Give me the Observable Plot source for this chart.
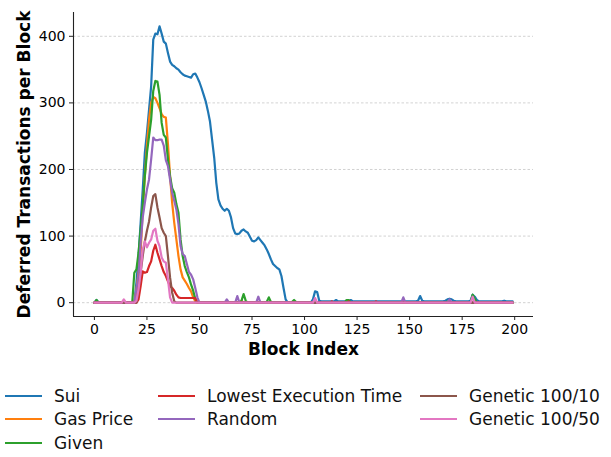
<!DOCTYPE html>
<html><head><meta charset="utf-8">
<script src="https://cdn.jsdelivr.net/npm/d3@7"></script>
<script src="https://cdn.jsdelivr.net/npm/@observablehq/plot@0.6"></script>
<style>
body{margin:0;background:#fff;font-family:"DejaVu Sans",sans-serif;width:611px;height:457px;position:relative;overflow:hidden;}
#chart{position:absolute;left:0;top:0;}
#legend{position:absolute;left:5px;top:384px;display:grid;grid-template-rows:repeat(3,23.5px);grid-template-columns:153px 262px auto;}
.item{display:flex;align-items:center;font-size:17px;color:#111;white-space:nowrap;}
.sw{display:inline-block;width:37px;height:2px;margin-right:12px;}
</style></head><body><div id="chart"></div><div id="legend"></div>
<script>
const seriesNames = ["Sui","Gas Price","Given","Lowest Execution Time","Random","Genetic 100/10","Genetic 100/50"];
const seriesColors = ["#1f77b4","#ff7f0e","#2ca02c","#d62728","#9467bd","#8c564b","#e377c2"];
const legendCells = [[1,1],[2,1],[3,1],[1,2],[2,2],[1,3],[2,3]];
const xTicks = [0,25,50,75,100,125,150,175,200];
const yTicks = [0,100,200,300,400];

const sui = [
0,4,0,0,0,0,0,0,0,0,
0,0,0,0,0,0,0,0,0,0,
30,70,120,170,225,255,290,325,395,404,
403,415,404,392,389,375,362,357,355,352,
350,346,343,341,340,339,338,343,344,338,
331,322,312,302,288,272,245,218,180,155,
146,141,138,141,138,128,112,104,103,104,
108,110,107,105,99,93,92,94,98,94,
90,86,80,73,65,58,55,52,50,40,
22,5,0,0,0,0,0,0,0,0,
0,0,0,0,5,17,16,3,2,2,
2,2,2,2,2,4,2,2,2,2,
2,2,4,2,2,2,2,2,2,2,
2,2,2,2,2,2,2,2,2,2,
2,2,2,2,2,2,2,2,2,2,
2,2,2,2,3,10,3,2,2,2,
2,2,2,2,2,2,2,3,5,6,
5,3,2,2,2,2,2,2,2,3,
12,9,4,2,2,2,2,2,2,2,
2,2,2,2,2,3,2,2,2,2];

const gasPrice = [
0,0,0,0,0,0,0,0,0,0,
0,0,0,0,0,0,0,0,0,0,
20,45,75,140,190,235,275,300,309,307,
300,292,283,279,278,238,190,150,120,95,
70,50,38,33,28,22,17,8,2,0,
0,0,0,0,0,0,0,0,0,0,
0,0,0,0,0,0,0,0,0,0,
3,0,0,0,0,0,0,0,0,0,
0,0,0,0,0,0,0,0,0,0,
0,0,0,0,0,0,0,0,0,0,
0,0,0,0,0,0,0,0,0,0,
0,0,0,0,0,0,0,0,0,0,
0,0,0,0,0,0,0,0,0,0,
0,0,0,0,0,0,0,0,0,0,
0,0,0,0,0,0,0,0,0,0,
0,0,0,0,0,0,0,0,0,0,
0,0,0,0,0,0,0,0,0,0,
0,0,0,0,0,0,0,0,0,0,
0,0,0,0,0,0,0,0,0,0,
0,0,0,0,0,0,0,0,0,0];

const given = [
0,4,0,0,0,0,0,0,0,0,
0,0,0,0,0,0,0,0,0,45,
50,75,110,145,190,225,250,275,318,333,
332,312,270,252,248,215,190,172,165,148,
135,95,70,55,46,38,27,18,6,0,
0,0,0,0,0,0,0,0,0,0,
0,0,0,0,0,0,0,0,0,0,
3,13,3,0,0,0,0,0,0,0,
0,0,1,8,1,0,0,0,0,0,
0,0,0,0,1,4,1,0,0,0,
0,0,0,0,0,0,0,0,0,0,
0,0,0,0,0,0,0,0,0,0,
4,4,0,0,0,0,0,0,0,0,
0,0,0,0,0,0,0,0,0,0,
0,0,0,0,0,0,0,0,0,0,
0,0,0,0,0,0,0,0,0,0,
0,0,0,0,0,0,0,0,2,0,
0,0,0,0,0,0,0,0,0,0,
12,6,0,0,0,0,0,0,0,0,
0,0,0,0,0,0,0,0,0,0];

const lowestExec = [
0,0,0,0,0,0,0,0,0,0,
0,0,0,0,0,0,0,0,0,0,
0,5,25,47,45,46,55,62,78,87,
75,65,55,46,40,32,25,22,18,12,
8,7,7,7,7,7,7,7,7,0,
0,0,0,0,0,0,0,0,0,0,
0,0,0,0,0,0,0,0,0,0,
0,0,0,0,0,0,0,0,0,0,
0,0,0,0,0,0,0,0,0,0,
0,0,0,0,0,0,0,0,0,0,
0,0,0,0,0,0,0,0,0,0,
0,0,0,2,0,0,0,0,0,0,
0,2,0,0,0,0,0,0,0,0,
0,0,0,0,2,0,0,0,0,0,
0,0,0,0,0,0,0,0,0,0,
0,0,0,0,0,0,0,0,0,0,
0,0,0,0,0,0,0,0,0,0,
0,0,0,0,0,0,0,0,0,0,
0,0,0,0,0,0,0,0,0,0,
0,0,0,0,0,0,0,0,0,0];

const randomSched = [
0,0,0,0,0,0,0,0,0,0,
0,0,0,0,0,0,0,0,0,0,
20,40,90,128,150,170,185,215,248,244,
244,245,245,236,214,205,185,165,153,140,
118,85,73,70,58,46,42,35,22,8,
0,0,0,0,0,0,0,0,0,0,
0,0,0,5,0,0,0,0,10,0,
0,0,0,0,0,0,0,0,9,0,
0,0,0,0,0,0,0,0,0,0,
0,0,0,0,0,0,0,0,0,0,
0,0,0,0,0,0,0,0,0,0,
0,0,0,0,0,0,0,0,0,0,
0,0,0,0,0,0,0,0,0,0,
0,0,0,0,0,0,0,0,0,0,
0,0,0,0,0,0,0,8,0,0,
0,0,0,0,0,0,0,0,0,0,
0,0,0,0,0,0,0,0,0,5,
0,0,0,0,0,0,0,0,0,0,
0,0,0,0,0,0,0,0,0,0,
0,0,0,0,0,0,0,0,0,0];

const genetic10 = [
0,0,0,0,0,0,0,0,0,0,
0,0,0,0,0,0,0,0,0,0,
0,20,45,70,92,108,122,143,160,163,
143,128,112,105,100,70,38,15,2,0,
0,0,0,0,0,0,0,0,0,0,
0,0,0,0,0,0,0,0,0,0,
0,0,0,0,0,0,0,0,0,0,
0,0,0,0,0,0,0,0,0,0,
0,0,0,0,0,0,0,0,0,0,
0,0,0,0,0,0,0,0,0,0,
0,0,0,0,0,0,0,0,0,0,
0,0,0,0,0,0,0,0,0,0,
0,0,0,0,0,0,0,0,0,0,
0,0,0,0,0,0,0,0,0,0,
0,0,0,0,0,0,0,0,0,0,
0,0,0,0,0,0,0,0,0,0,
0,0,0,0,0,0,0,0,0,0,
0,0,0,0,0,0,0,0,0,0,
0,0,0,0,0,0,0,0,0,0,
0,0,0,0,0,0,0,0,0,0];

const genetic50 = [
0,0,0,0,0,0,0,0,0,0,
0,0,0,0,5,0,0,0,0,0,
3,20,45,80,92,83,90,95,108,111,
93,85,68,62,60,35,8,0,0,0,
0,0,0,0,0,0,0,0,0,0,
0,0,0,0,0,0,0,0,0,0,
0,0,0,0,0,0,0,0,0,0,
0,0,0,0,0,0,0,0,0,0,
0,0,0,0,0,0,0,0,0,0,
0,0,0,0,0,0,0,0,0,0,
0,0,0,0,0,7,0,0,0,0,
0,0,0,0,0,0,0,0,0,0,
0,0,0,0,0,0,0,0,0,0,
0,0,0,0,0,0,0,0,0,0,
0,0,0,0,0,0,0,0,0,0,
0,0,0,0,0,0,0,0,0,0,
0,0,0,0,0,0,0,0,0,0,
0,0,0,0,0,0,0,0,0,0,
9,0,0,0,0,0,0,0,0,0,
0,0,0,0,0,0,0,0,0,0];

const seriesValues = [sui, gasPrice, given, lowestExec, randomSched, genetic10, genetic50];

const xDomain = [-9.95, 208.95];
const yDomain = [-20.75, 435.75];

const chart = Plot.plot({
  width: 611,
  height: 370,
  marginLeft: 73,
  marginRight: 78,
  marginTop: 12,
  marginBottom: 54,
  style: {fontFamily: "DejaVu Sans", fontSize: "14px", color: "#000", background: "#fff"},
  x: {domain: xDomain},
  y: {domain: yDomain},
  marks: [
    Plot.gridY(yTicks, {stroke: "#b8b8b8", strokeOpacity: 0.8, strokeDasharray: "2.5,2", strokeWidth: 0.8}),
    ...seriesValues.map((vals, k) => Plot.lineY(vals, {stroke: seriesColors[k], strokeWidth: 2.2, strokeLinejoin: "round"})),
    Plot.ruleX([xDomain[0]], {stroke: "#222", strokeWidth: 1.1}),
    Plot.ruleY([yDomain[0]], {stroke: "#222", strokeWidth: 1.1}),
    Plot.axisX(xTicks, {tickSize: 4, tickPadding: 4, fontSize: 14, label: null, stroke: "#222"}),
    Plot.axisY(yTicks, {tickSize: 4, tickPadding: 4, fontSize: 14, label: null, stroke: "#222"}),
    Plot.text(["Block Index"], {frameAnchor: "bottom", dy: 33, lineAnchor: "middle", textAnchor: "middle", fontSize: 17, fontWeight: "bold", fill: "#000"}),
    Plot.text(["Deferred Transactions per Block"], {frameAnchor: "left", dx: -49, rotate: -90, textAnchor: "middle", lineAnchor: "middle", fontSize: 17, fontWeight: "bold", fill: "#000"})
  ]
});
document.getElementById("chart").appendChild(chart);

const legend = document.getElementById("legend");
seriesNames.forEach((name, k) => {
  const item = document.createElement("div");
  item.className = "item";
  item.style.gridRow = String(legendCells[k][0]);
  item.style.gridColumn = String(legendCells[k][1]);
  const sw = document.createElement("span");
  sw.className = "sw";
  sw.style.background = seriesColors[k];
  const label = document.createElement("span");
  label.textContent = name;
  item.appendChild(sw);
  item.appendChild(label);
  legend.appendChild(item);
});
</script>
</body></html>
